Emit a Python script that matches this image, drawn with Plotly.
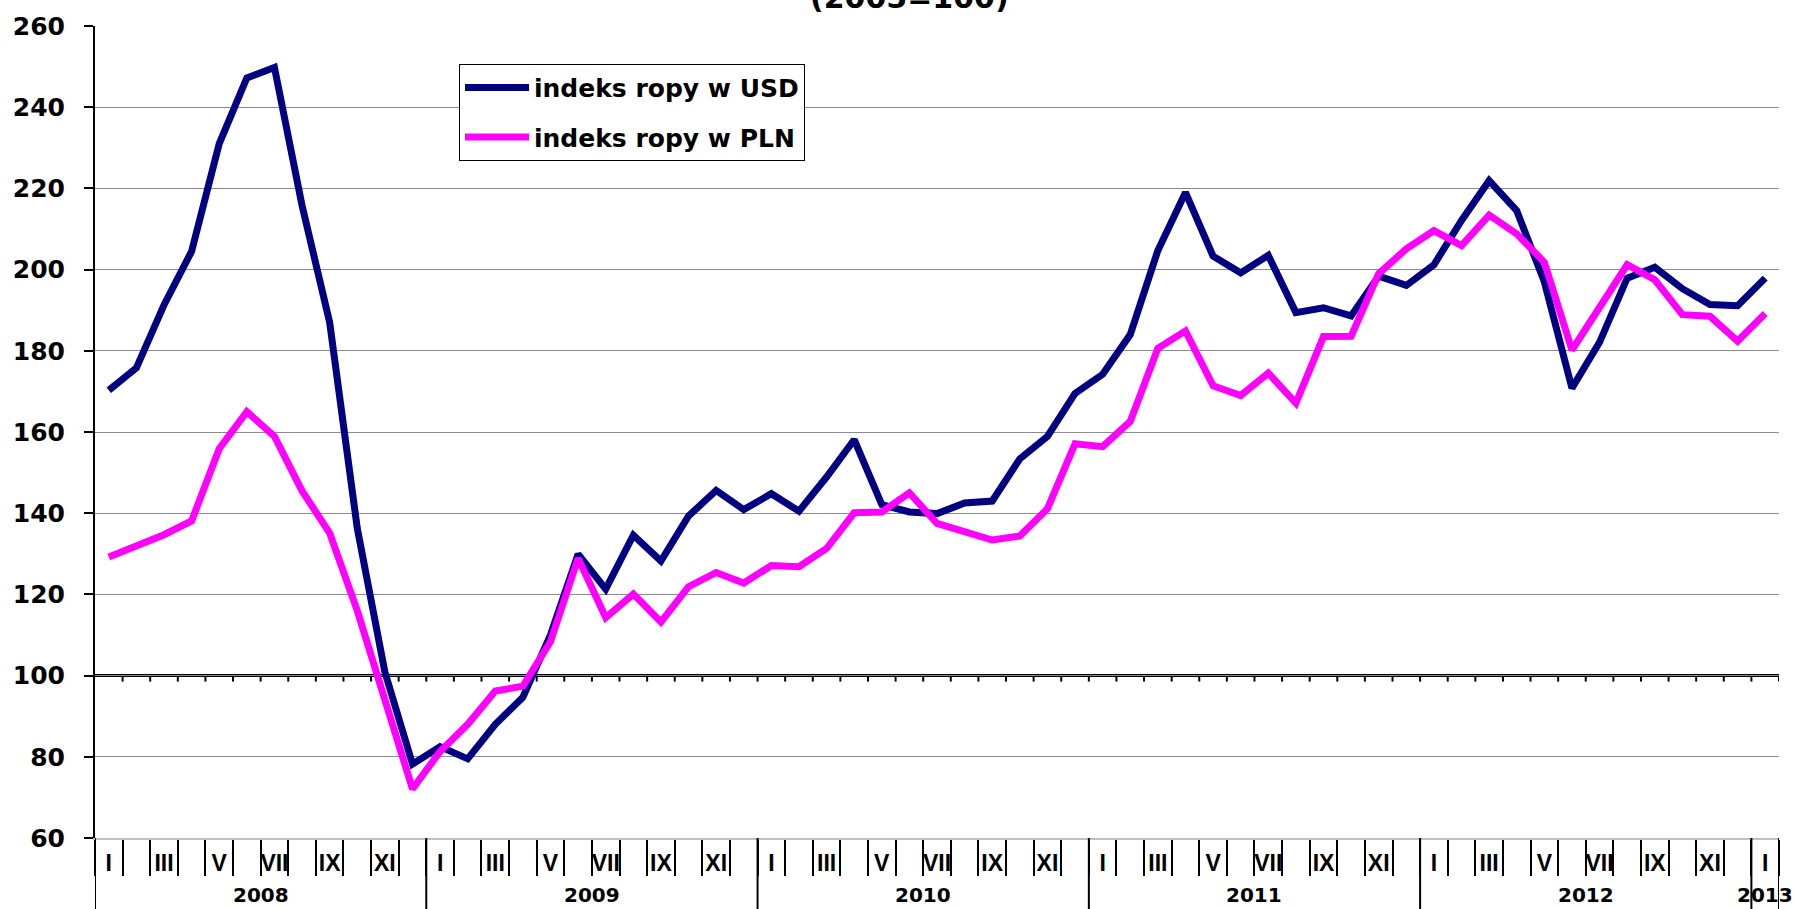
import plotly.graph_objects as go

# ---- data (monthly, Jan 2008 .. Jan 2013) ----
roman = ["I", "II", "III", "IV", "V", "VI", "VII", "VIII", "IX", "X", "XI", "XII"]
years = [2008, 2009, 2010, 2011, 2012, 2013]
month_idx = list(range(61))
month_labels = [roman[i % 12] for i in month_idx]

usd = [170.3, 175.8, 191.3, 204.5, 231.0, 247.2, 249.8, 215.8, 187.0, 136.3,
       100.9, 78.2, 82.5, 79.5, 88.0, 94.7, 110.0, 129.9, 121.3, 134.6,
       128.2, 139.3, 145.6, 140.9, 144.8, 140.5, 148.9, 158.1, 142.1, 140.3,
       139.9, 142.5, 143.0, 153.4, 158.9, 169.5, 174.2, 184.0, 204.7, 219.0,
       203.3, 199.2, 203.5, 189.4, 190.6, 188.6, 198.4, 196.1, 201.2, 212.1,
       221.9, 214.5, 197.0, 170.8, 182.1, 197.9, 200.6, 195.3, 191.4, 191.1,
       197.9]
pln = [129.2, 132.0, 134.7, 138.1, 155.9, 165.0, 158.9, 145.5, 135.1, 116.0,
       93.5, 72.1, 81.3, 88.0, 96.2, 97.4, 108.4, 128.9, 114.3, 120.1,
       113.2, 121.9, 125.4, 122.8, 127.1, 126.8, 131.3, 140.1, 140.3, 145.0,
       137.5, 135.4, 133.4, 134.4, 141.1, 157.1, 156.4, 162.6, 180.6, 184.9,
       171.4, 169.0, 174.5, 167.1, 183.5, 183.6, 199.0, 205.1, 209.6, 205.9,
       213.4, 208.8, 201.8, 180.2, 190.4, 201.2, 197.5, 188.9, 188.5, 182.4,
       189.2]
series_names = ["indeks ropy w USD", "indeks ropy w PLN"]
series_colors = ["#000080", "#FF00FF"]
y_ticks = [60, 80, 100, 120, 140, 160, 180, 200, 220, 240, 260]
base_value = 100
title_text = "(2005=100)"

W, H = 1795, 909
ML, MR, MT, MB = 95, 16, 23, 71
plot_h = H - MT - MB

fig = go.Figure()
for name, vals, col in zip(series_names, [usd, pln], series_colors):
    fig.add_trace(go.Scatter(
        x=month_idx, y=vals, mode="lines", name=name, legendgroup=name,
        line=dict(color=col, width=7),
        hoverinfo="x+y",
    ))

n = len(month_idx)
xr = [-0.5, n - 0.5]
tickvals = [i for i in month_idx if i % 2 == 0]
ticktext = [month_labels[i] for i in tickvals]

shapes = []
# base (100) line with tick marks
shapes.append(dict(type="line", xref="x", yref="y", x0=xr[0], x1=xr[1],
                   y0=base_value, y1=base_value, layer="below",
                   line=dict(color="black", width=3)))
tick_units = 6 / plot_h * (y_ticks[-1] - y_ticks[0])
for k in range(1, n + 1):
    b = k - 0.5
    shapes.append(dict(type="line", xref="x", yref="y", x0=b, x1=b,
                       y0=base_value, y1=base_value - tick_units, layer="below",
                       line=dict(color="black", width=2)))
# year separators
bottom = -(MB + 5) / plot_h
for k in range(12, n, 12):
    b = k - 0.5
    shapes.append(dict(type="line", xref="x", yref="paper", x0=b, x1=b,
                       y0=0, y1=bottom, line=dict(color="black", width=2)))
for b in xr:
    shapes.append(dict(type="line", xref="x", yref="paper", x0=b, x1=b,
                       y0=0, y1=bottom, line=dict(color="black", width=2)))

annotations = []
for j, yr in enumerate(years):
    first = j * 12
    last = min(first + 11, n - 1)
    annotations.append(dict(x=(first + last) / 2, xref="x", y=-(895 - (H - MB)) / plot_h,
                            yref="paper", text=str(yr), showarrow=False,
                            font=dict(family="DejaVu Sans", size=20, color="black", weight="bold"),
                            xanchor="center", yanchor="middle"))
annotations.append(dict(x=(909 - ML) / (W - ML - MR), xref="paper",
                        y=1 + (MT - 14) / plot_h, yref="paper", yanchor="bottom",
                        text=title_text, showarrow=False,
                        font=dict(family="DejaVu Sans", size=30, color="black", weight="bold")))

fig.update_layout(
    width=W, height=H,
    margin=dict(l=ML, r=MR, t=MT, b=MB, pad=0),
    plot_bgcolor="white", paper_bgcolor="white",
    showlegend=True,
    legend=dict(x=(459 - ML) / (W - ML - MR), y=1 - (61 - MT) / plot_h,
                xanchor="left", yanchor="top",
                bgcolor="white", bordercolor="black", borderwidth=1,
                font=dict(family="DejaVu Sans", size=25, color="black", weight="bold"),
                traceorder="grouped", tracegroupgap=14, itemwidth=64),
    xaxis=dict(range=xr, tickmode="array", tickvals=tickvals, ticktext=ticktext,
               ticks="", showgrid=False, zeroline=False,
               showline=True, linecolor="#c0c0c0", linewidth=2,
               tickfont=dict(family="Liberation Sans", size=23, color="black", weight="bold"),
               ticklabelstandoff=3,
               minor=dict(tickmode="linear", tick0=-0.5, dtick=1, ticks="outside",
                          ticklen=36, tickwidth=2, tickcolor="black", showgrid=False)),
    yaxis=dict(range=[y_ticks[0], y_ticks[-1]], tickmode="array", tickvals=y_ticks,
               showgrid=True, gridcolor="#8c8c8c", gridwidth=1, zeroline=False,
               showline=True, linecolor="black", linewidth=2,
               ticks="outside", ticklen=9, tickwidth=2, tickcolor="black",
               tickfont=dict(family="DejaVu Sans", size=25, color="black", weight="bold"),
               ticklabelstandoff=14),
    shapes=shapes, annotations=annotations,
)

fig.write_html("out.html", config={"displayModeBar": False},
               post_script="document.body.style.margin='0';document.body.style.overflow='hidden';")
